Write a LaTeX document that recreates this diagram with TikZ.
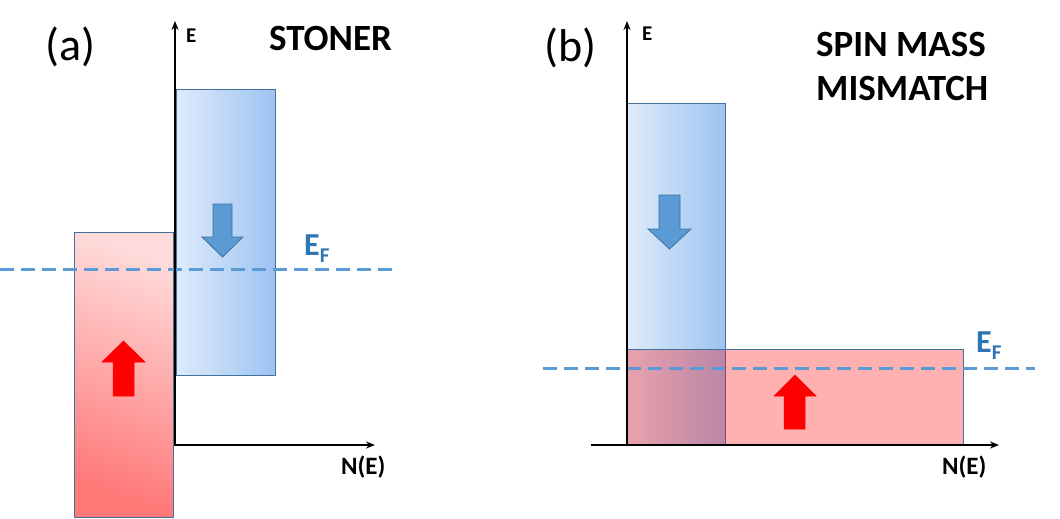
\documentclass[tikz,border=0pt]{standalone}
\usepackage{fontspec}
\setmainfont{Carlito}
\usetikzlibrary{arrows.meta}
\definecolor{rectborder}{RGB}{65,113,156}
\definecolor{dashblue}{RGB}{91,155,213}
\definecolor{efblue}{RGB}{46,117,182}
\definecolor{bluelight}{RGB}{222,235,250}
\definecolor{bluedark}{RGB}{157,195,242}
\definecolor{redlight}{RGB}{255,218,218}
\definecolor{reddark}{RGB}{255,120,120}
\tikzset{
  axis/.style={line width=2.2pt,-{Stealth[length=9pt,width=7pt]}},
  bluerect/.style={draw=rectborder,line width=0.9pt,left color=bluelight,right color=bluedark},
  redrectA/.style={draw=rectborder,line width=0.9pt,top color=redlight,bottom color=reddark,shading angle=-20},
  redrectB/.style={draw=rectborder,line width=0.9pt,fill=red,fill opacity=0.31},
  fermi/.style={dashblue,line width=3pt,dash pattern=on 14pt off 7pt},
  bluearrow/.style={fill=dashblue,draw=rectborder,line width=0.8pt},
  redarrow/.style={fill=red,draw=red,line width=0.5pt},
  axlabel/.style={font=\fontsize{21}{23}\selectfont\bfseries,inner sep=0pt},
  nlabel/.style={font=\fontsize{25}{27}\selectfont\bfseries,inner sep=0pt},
  title/.style={font=\fontsize{37}{42}\selectfont\bfseries,inner sep=0pt},
  panel/.style={font=\fontsize{46}{50}\selectfont,inner sep=0pt},
  eflabel/.style={text=efblue,font=\fontsize{32}{34}\selectfont\bfseries,inner sep=0pt},
}
\newcommand{\efsym}{E{\fontsize{21}{23}\selectfont\raisebox{-7pt}{F}}}
\begin{document}
\begin{tikzpicture}[x=1pt,y=-1pt]
\useasboundingbox (0,0) rectangle (1060,519);
% ---------- panel (a)
\coordinate (a0) at (175,445);
\coordinate (atop) at (175,21);
\coordinate (aright) at (375,445);
\path[bluerect] (176,89) rectangle (275,375);
\path[redrectA] (74,232) rectangle (173,517);
\draw[fermi] (0,269) -- (392,269);
\draw[axis] (a0) -- (atop);
\draw[axis] ([xshift=-1.1pt]a0) -- (aright);
\path[bluearrow] (213,204) -- (232,204) -- (232,237) -- (243,237) -- (222.5,257) -- (202,237) -- (213,237) -- cycle;
\path[redarrow] (113,396) -- (134,396) -- (134,362) -- (145,362) -- (123.5,341) -- (102,362) -- (113,362) -- cycle;
\node[panel,anchor=base west] (pa) at (45,61) {(a)};
\node[axlabel,anchor=base west] (ea) at (186,43) {E};
\node[title,anchor=base west] (stoner) at (269,51) {STONER};
\node[nlabel,anchor=base west] (na) at (341,474) {N(E)};
\node[eflabel,anchor=base west] (efa) at (304,255) {\efsym};
% ---------- panel (b)
\coordinate (b0) at (627,445);
\coordinate (btop) at (627,21);
\coordinate (bleft) at (591,445);
\coordinate (bright) at (999,445);
\path[bluerect] (627,103) rectangle (725,445);
\path[redrectB] (627,349) rectangle (963,445);
\draw[fermi] (543,368) -- (1035,368);
\draw[axis] (b0) -- (btop);
\draw[axis] (bleft) -- (bright);
\path[bluearrow] (659,195) -- (680,195) -- (680,229) -- (691,229) -- (669.5,249) -- (648,229) -- (659,229) -- cycle;
\path[redarrow] (784,429) -- (805,429) -- (805,396) -- (816,396) -- (795,375) -- (774,396) -- (784,396) -- cycle;
\node[panel,anchor=base west] (pb) at (544,62) {(b)};
\node[axlabel,anchor=base west] (eb) at (642,41) {E};
\node[title,anchor=base west] (spin) at (816,57) {SPIN MASS};
\node[title,anchor=base west] (mism) at (816,100) {MISMATCH};
\node[nlabel,anchor=base west] (nb) at (942,474) {N(E)};
\node[eflabel,anchor=base west] (efb) at (976,352) {\efsym};
\end{tikzpicture}
\end{document}
